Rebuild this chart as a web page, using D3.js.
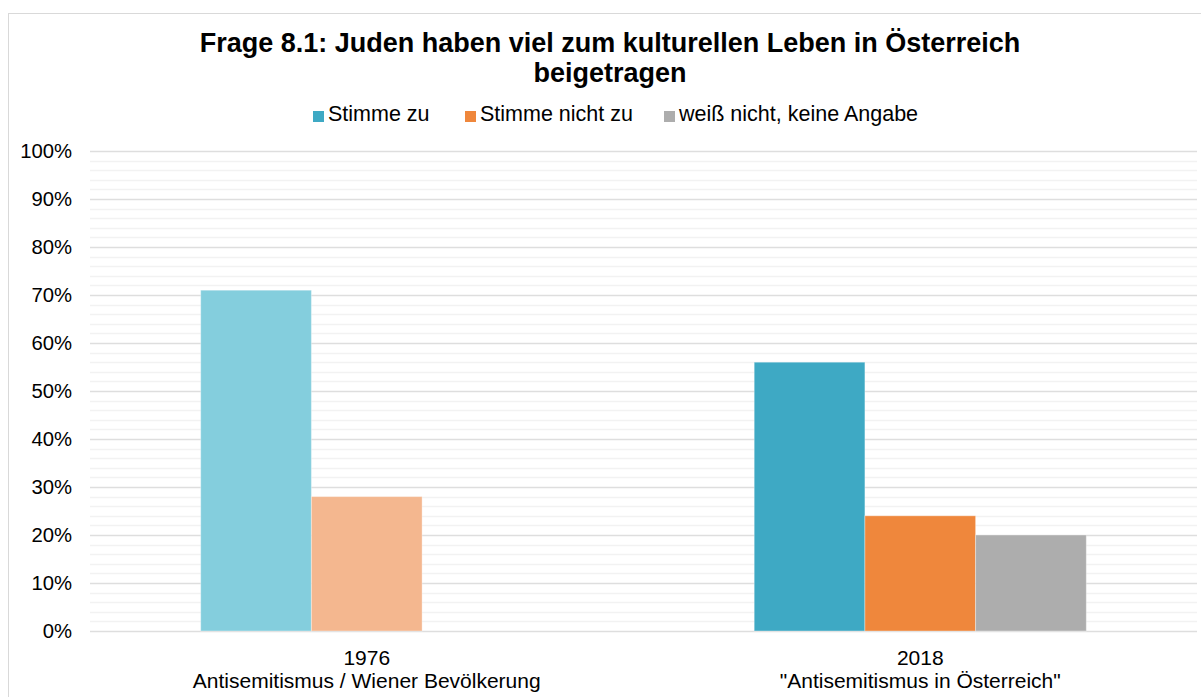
<!DOCTYPE html>
<html>
<head>
<meta charset="utf-8">
<script src="https://cdn.jsdelivr.net/npm/d3@7"></script>
<style>
  body { margin: 0; background: #fff; }
  text { font-family: "Liberation Sans", Arial, sans-serif; fill: #000; }
</style>
</head>
<body>
<script>
var width = 1201;
var height = 697;

// data
var years = ["1976", "2018"];
var studies = ["Antisemitismus / Wiener Bevölkerung", "\"Antisemitismus in Österreich\""];
var answers = ["Stimme zu", "Stimme nicht zu", "weiß nicht, keine Angabe"];
var values1976 = [71, 28, null];
var values2018 = [56, 24, 20];
var yTicks = [0, 10, 20, 30, 40, 50, 60, 70, 80, 90, 100];

var valuesByYear = { "1976": values1976, "2018": values2018 };

// colors: 2018 full, 1976 lighter
var colors2018 = ["#3EA9C4", "#EF873C", "#ADADAD"];
var colors1976 = ["#84CEDD", "#F4B78F", "#D6D6D6"];

var svg = d3.select('body').append('svg')
    .attr('width', width)
    .attr('height', height);

// chart frame
svg.append('rect')
    .attr('x', 8.5)
    .attr('y', 13.5)
    .attr('width', width + 20)
    .attr('height', height + 20)
    .attr('fill', '#fff')
    .attr('stroke', '#D9D9D9')
    .attr('stroke-width', 1);

var plotLeft = 90, plotRight = 1197, plotTop = 151, plotBottom = 631;

var y = d3.scaleLinear().domain([0, 100]).range([plotBottom, plotTop]);
var x0 = d3.scaleBand().domain(years).range([plotLeft, plotRight])
    .paddingInner(0.4).paddingOuter(0.2);
var x1 = d3.scaleBand().domain(answers).range([0, x0.bandwidth()]);

// minor grid every 2%
svg.append('g').selectAll('line')
    .data(d3.range(0, 101, 2).filter(function(d) { return d % 10 !== 0; }))
    .enter().append('line')
    .attr('x1', plotLeft).attr('x2', plotRight)
    .attr('y1', function(d) { return Math.round(y(d)) + 0.5; })
    .attr('y2', function(d) { return Math.round(y(d)) + 0.5; })
    .attr('stroke', '#F2F2F2').attr('stroke-width', 1.3);

// major grid
svg.append('g').selectAll('line')
    .data(yTicks)
    .enter().append('line')
    .attr('x1', plotLeft).attr('x2', plotRight)
    .attr('y1', function(d) { return Math.round(y(d)) + 0.5; })
    .attr('y2', function(d) { return Math.round(y(d)) + 0.5; })
    .attr('stroke', '#DEDEDE').attr('stroke-width', 1.5);

// y axis labels
var yAxis = d3.axisLeft(y).tickValues(yTicks)
    .tickFormat(function(d) { return d + '%'; })
    .tickSize(0).tickPadding(18);
var gy = svg.append('g').attr('transform', 'translate(' + plotLeft + ',0)').call(yAxis);
gy.select('.domain').remove();
gy.selectAll('text')
    .style('font-family', '"Liberation Sans", Arial, sans-serif')
    .style('font-size', '20.3px')
    .attr('fill', '#000');

// bars
var groups = svg.append('g').selectAll('g')
    .data(years)
    .enter().append('g')
    .attr('transform', function(d) { return 'translate(' + x0(d) + ',0)'; });

groups.selectAll('rect')
    .data(function(yr) {
        return answers.map(function(a, i) {
            return { year: yr, answer: a, i: i, value: valuesByYear[yr][i] };
        }).filter(function(d) { return d.value != null; });
    })
    .enter().append('rect')
    .attr('x', function(d) { return x1(d.answer); })
    .attr('y', function(d) { return y(d.value); })
    .attr('width', x1.bandwidth())
    .attr('height', function(d) { return y(0) - y(d.value); })
    .attr('fill', function(d) { return d.year === '1976' ? colors1976[d.i] : colors2018[d.i]; })
    .attr('stroke', 'rgba(255,255,255,0.35)')
    .attr('stroke-width', 1);

// category labels
years.forEach(function(yr, k) {
    var cx = x0(yr) + x0.bandwidth() / 2;
    svg.append('text')
        .attr('x', cx).attr('y', 665)
        .attr('text-anchor', 'middle')
        .style('font-size', '21px')
        .text(yr);
    svg.append('text')
        .attr('x', cx).attr('y', 688)
        .attr('text-anchor', 'middle')
        .style('font-size', '21px')
        .text(studies[k]);
});

// title
svg.append('text')
    .attr('x', 610).attr('y', 52)
    .attr('text-anchor', 'middle')
    .style('font-size', '27px').style('font-weight', 'bold')
    .text('Frage 8.1: Juden haben viel zum kulturellen Leben in Österreich');
svg.append('text')
    .attr('x', 610).attr('y', 82)
    .attr('text-anchor', 'middle')
    .style('font-size', '27px').style('font-weight', 'bold')
    .text('beigetragen');

// legend
var legendX = [313, 465, 664];
var legend = svg.append('g').selectAll('g')
    .data(answers)
    .enter().append('g')
    .attr('transform', function(d, i) { return 'translate(' + legendX[i] + ',111)'; });
legend.append('rect')
    .attr('width', 11).attr('height', 11)
    .attr('fill', function(d, i) { return colors2018[i]; });
legend.append('text')
    .attr('x', 15).attr('y', 10)
    .style('font-size', '21.5px')
    .text(function(d) { return d; });
</script>
</body>
</html>
